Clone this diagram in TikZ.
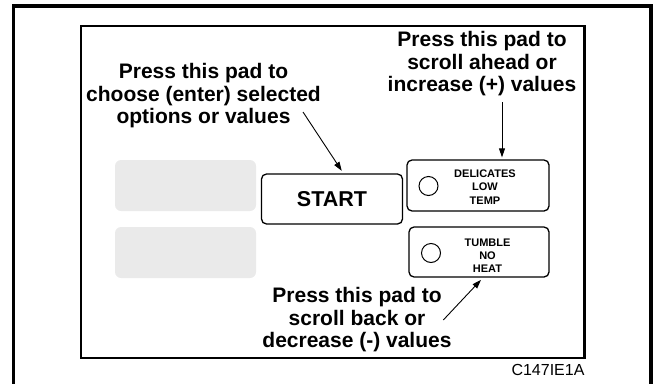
\documentclass[tikz,border=0pt]{standalone}
\usepackage{fontspec}
\setmainfont{Liberation Sans}
\usetikzlibrary{arrows.meta}
\definecolor{padgray}{HTML}{EAEAEA}
\tikzset{
  pad/.style={draw, line width=1.3pt, rounded corners=5pt, minimum width=142pt, minimum height=51pt, inner sep=0pt},
  blank/.style={fill=padgray, rounded corners=6pt, minimum width=141pt, minimum height=51pt, inner sep=0pt},
  note/.style={font=\bfseries\fontsize{21}{22.5}\selectfont, align=center, inner sep=0pt},
  tag/.style={font=\bfseries\fontsize{11}{13.3}\selectfont, align=center, inner sep=0pt},
  lamp/.style={draw, circle, line width=1pt, minimum size=19pt, inner sep=0pt},
  callout/.style={-{Triangle[length=9pt,width=6pt]}, line width=0.9pt}
}
\begin{document}
\begin{tikzpicture}[x=1pt,y=-1pt]
                \useasboundingbox (0,0) rectangle (655,383);
                \draw [line width=3.5pt] (13.5,390) |- (651,6) -- (651,390);
                \draw [line width=2.2pt] (81,26) rectangle (584.5,358);

                \node [blank] (blank1) at (185.5,185.5) {};
                \node [blank] (blank2) at (185.5,252.5) {};
                \node [pad, minimum width=141pt, minimum height=50pt, font=\bfseries\fontsize{21.5}{21.5}\selectfont] (start) at (332,199) {START};
                \node [pad] (delicates) at (478,185.5) {};
                \node [pad, minimum width=140pt, minimum height=50pt] (tumble) at (479,252) {};
                \node [lamp] (lamp1) at (428.5,186) {};
                \node [lamp] (lamp2) at (431,253) {};
                \node [tag] (deltext) at (485,187) {DELICATES\\LOW\\TEMP};
                \node [tag] (tumtext) at (487.5,255.6) {TUMBLE\\NO\\HEAT};

                \node [note] (choose) at (203.5,95.7) {Press this pad to\\choose (enter) selected\\options or values};
                \node [note] (ahead) at (482,63.8) {Press this pad to\\scroll ahead or\\increase (+) values};
                \node [note] (back) at (357,319.7) {Press this pad to\\scroll back or\\decrease (-) values};
                \node [anchor=base, inner sep=0pt, font=\fontsize{16}{16}\selectfont] (code) at (548,375) {C147IE1A};

                \coordinate (t1) at (303,112);
                \coordinate (t2) at (502,102);
                \coordinate (t3) at (443.3,320);
                \draw [callout, shorten >=3pt] (t1) -- (start.66);
                \draw [callout, shorten >=2pt] (t2) -- (t2 |- delicates.north);
                \draw [callout, shorten >=3pt] (t3) -- (tumble.-81);
            \end{tikzpicture}
\end{document}
